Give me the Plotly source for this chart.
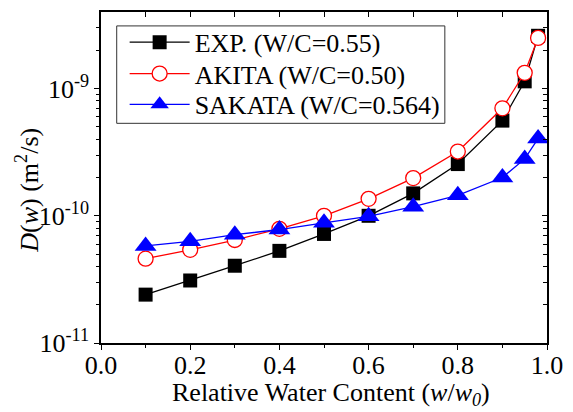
import plotly.graph_objects as go

# ---- data ----
w_exp = [0.1, 0.2, 0.3, 0.4, 0.5, 0.6, 0.7, 0.8, 0.9, 0.95, 0.98]
d_exp = [2.4e-11, 3.1e-11, 4.05e-11, 5.3e-11, 7.2e-11, 1.0e-10, 1.5e-10, 2.55e-10, 5.6e-10, 1.14e-9, 2.6e-9]

w_akita = [0.1, 0.2, 0.3, 0.4, 0.5, 0.6, 0.7, 0.8, 0.9, 0.95, 0.98]
d_akita = [4.6e-11, 5.4e-11, 6.45e-11, 7.9e-11, 1.0e-10, 1.36e-10, 1.98e-10, 3.2e-10, 7.0e-10, 1.33e-9, 2.5e-9]

w_sakata = [0.1, 0.2, 0.3, 0.4, 0.5, 0.6, 0.7, 0.8, 0.9, 0.95, 0.98]
d_sakata = [5.8e-11, 6.3e-11, 7.1e-11, 7.8e-11, 8.8e-11, 9.9e-11, 1.18e-10, 1.45e-10, 2.0e-10, 2.8e-10, 4.05e-10]

names = ["EXP. (W/C=0.55)", "AKITA (W/C=0.50)", "SAKATA (W/C=0.564)"]

x_major = [0.0, 0.2, 0.4, 0.6, 0.8, 1.0]
x_major_text = ["0.0", "0.2", "0.4", "0.6", "0.8", "1.0"]
x_minor = [0.1, 0.3, 0.5, 0.7, 0.9]
x_all = [0.0, 0.1, 0.2, 0.3, 0.4, 0.5, 0.6, 0.7, 0.8, 0.9, 1.0]
y_major = [1e-11, 1e-10, 1e-9]
y_major_text = ["10<sup>-11</sup>", "10<sup>-10</sup>", "10<sup>-9</sup>"]
y_minor = [m * 10.0 ** e for e in (-11, -10) for m in range(2, 10)] + [2e-9, 3e-9]

y_range_log = [-11, -8.398]

FONT = "Liberation Serif"

fig = go.Figure()
fig.add_trace(go.Scatter(
    x=w_exp, y=d_exp, name=names[0], mode="lines+markers", legend="legend",
    line=dict(color="black", width=1.3),
    marker=dict(symbol="square", size=14, color="black", line=dict(width=0)),
))
fig.add_trace(go.Scatter(
    x=w_akita, y=d_akita, name=names[1], mode="lines+markers", legend="legend2",
    line=dict(color="red", width=1.3),
    marker=dict(symbol="circle", size=15, color="white", line=dict(color="red", width=1.3)),
))
fig.add_trace(go.Scatter(
    x=w_sakata, y=d_sakata, name=names[2], mode="lines+markers", legend="legend3",
    line=dict(color="blue", width=1.3),
    marker=dict(symbol="triangle-up", size=19, color="blue", line=dict(width=0)),
))
# dummy trace for mirror axes (inward ticks on top/right)
fig.add_trace(go.Scatter(
    x=[0.5], y=[1e-10], xaxis="x2", yaxis="y2", mode="markers",
    marker=dict(opacity=0), showlegend=False, hoverinfo="skip",
))


def leg(ypaper):
    return dict(
        x=0.053, y=ypaper, xanchor="left", yanchor="middle",
        bgcolor="rgba(0,0,0,0)", borderwidth=0,
        font=dict(family=FONT, size=26, color="black"),
        itemwidth=60,
    )


fig.update_layout(
    width=573, height=412,
    margin=dict(l=101, r=18, t=10, b=69),
    paper_bgcolor="white", plot_bgcolor="white",
    font=dict(family=FONT, size=26, color="black"),
    showlegend=True,
    legend=leg((343 - 40.5) / 333),
    legend2=leg((343 - 72) / 333),
    legend3=leg((343 - 103) / 333),
    shapes=[dict(
        type="rect", xref="paper", yref="paper",
        x0=(117 - 101) / 454, x1=(451 - 101) / 454,
        y0=(343 - 122) / 333, y1=(343 - 24) / 333,
        line=dict(color="#333333", width=1), fillcolor="rgba(0,0,0,0)", layer="above",
    )],
    xaxis=dict(
        range=[0, 1], showgrid=False, zeroline=False,
        showline=True, linecolor="black", linewidth=1.5, mirror=True,
        tickvals=x_major, ticktext=x_major_text, ticks="outside", ticklen=5,
        tickwidth=1.2, tickcolor="black", ticklabelstandoff=-7,
        minor=dict(tickvals=x_minor, ticks="outside", ticklen=3, tickwidth=1.2, tickcolor="black"),
        tickfont=dict(family=FONT, size=26),
    ),
    yaxis=dict(
        type="log", range=y_range_log, showgrid=False, zeroline=False,
        showline=True, linecolor="black", linewidth=1.5, mirror=True,
        tickvals=y_major, ticktext=y_major_text, ticks="outside", ticklen=5,
        tickwidth=1.2, tickcolor="black",
        minor=dict(tickvals=y_minor, ticks="outside", ticklen=3, tickwidth=1.2, tickcolor="black"),
        tickfont=dict(family=FONT, size=26),
    ),
    xaxis2=dict(
        overlaying="x", side="top", anchor="y2", range=[0, 1],
        showgrid=False, zeroline=False, showline=False,
        tickvals=x_all, ticks="inside", ticklen=5, tickwidth=1.2, tickcolor="black",
        showticklabels=False,
    ),
    yaxis2=dict(
        overlaying="y", side="right", anchor="x2", type="log", range=y_range_log,
        showgrid=False, zeroline=False, showline=False,
        tickvals=y_major, ticks="inside", ticklen=5, tickwidth=1.2, tickcolor="black",
        minor=dict(tickvals=y_minor, ticks="inside", ticklen=4, tickwidth=1.2, tickcolor="black"),
        showticklabels=False,
    ),
    annotations=[
        dict(
            text="Relative Water Content (<i>w</i>/<i>w</i><sub><i>0</i></sub>)",
            xref="paper", yref="paper", x=0.515, y=0, yshift=-51,
            xanchor="center", yanchor="middle", showarrow=False,
            font=dict(family=FONT, size=26, color="black"),
        ),
        dict(
            text="<i>D</i>(<i>w</i>) (m<sup>2</sup>/s)",
            xref="paper", yref="paper", x=0, y=0.46, xshift=-73,
            xanchor="center", yanchor="middle", textangle=-90, showarrow=False,
            font=dict(family=FONT, size=26, color="black"),
        ),
    ],
)

fig.write_html("out.html")
